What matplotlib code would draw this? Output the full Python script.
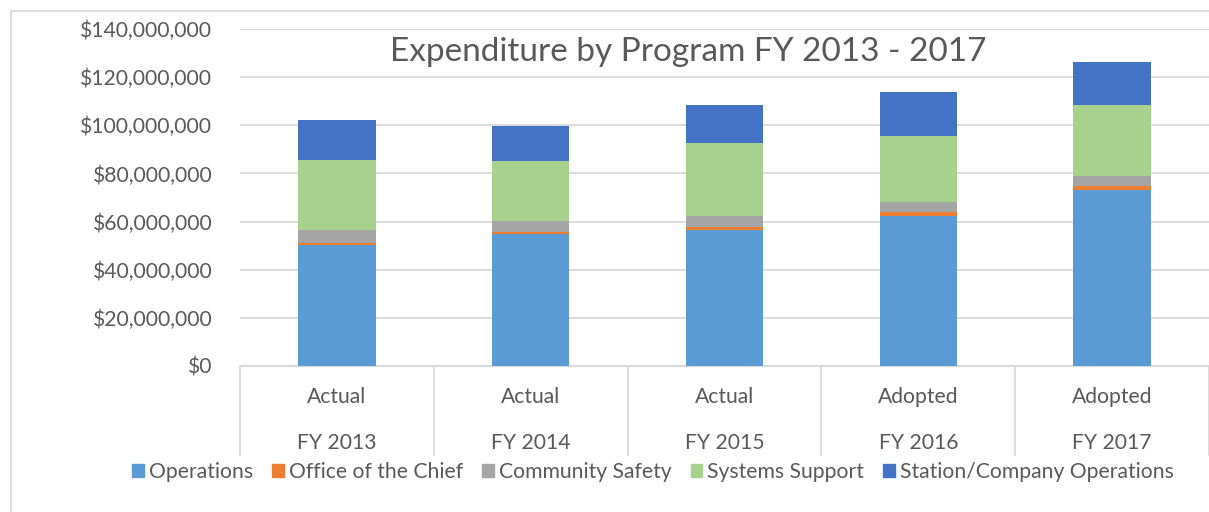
import matplotlib.pyplot as plt
import matplotlib.transforms as mtransforms
from matplotlib.patches import Patch
import numpy as np

# values in $ millions
years = ["FY 2013", "FY 2014", "FY 2015", "FY 2016", "FY 2017"]
status = ["Actual", "Actual", "Actual", "Adopted", "Adopted"]
operations = [50.1, 54.8, 56.5, 62.4, 73.1]
office_chief = [1.1, 0.9, 1.2, 1.4, 1.5]
community_safety = [5.3, 4.7, 4.7, 4.5, 4.4]
systems_support = [29.1, 24.9, 30.4, 27.3, 29.3]
station_ops = [16.6, 14.4, 15.5, 18.2, 18.1]

series = [
    ("Operations", operations, "#5b9bd5"),
    ("Office of the Chief", office_chief, "#ed7d31"),
    ("Community Safety", community_safety, "#a5a5a5"),
    ("Systems Support", systems_support, "#a9d18e"),
    ("Station/Company Operations", station_ops, "#4472c4"),
]

plt.rcParams['font.family'] = ['Lato', 'DejaVu Sans']
txt = "#595959"
grid = "#d9d9d9"
fs = 15.2

fig = plt.figure(figsize=(12.09, 5.12), dpi=100)
ax = fig.add_axes([240 / 1209, 1 - 366 / 512, 1 - 240 / 1209, (366 - 29) / 512])

x = np.arange(len(years))
bottom = np.zeros(len(years))
for name, vals, col in series:
    v = np.array(vals) * 1e6
    ax.bar(x, v, 0.4, bottom=bottom, color=col, label=name, zorder=3)
    bottom += v

ax.set_xlim(-0.5, 4.5)
ax.set_ylim(0, 140e6)
ax.set_yticks(np.arange(0, 140e6 + 1, 20e6))
ax.set_yticklabels(["${:,.0f}".format(t) for t in np.arange(0, 140e6 + 1, 20e6)])
ax.tick_params(axis='y', length=0, pad=20, labelsize=fs, labelcolor=txt)
ax.set_xticks([])
ax.grid(axis='y', color=grid, linewidth=1.3, zorder=0)
for s in ax.spines.values():
    s.set_visible(False)

# two-level category axis
trans = mtransforms.blended_transform_factory(ax.transData, ax.transAxes)
ax.plot([-0.5, 4.5], [0, 0], color=grid, lw=1.5, transform=trans, clip_on=False)
for b in np.arange(-0.5, 4.6, 1.0):
    ax.plot([b, b], [0, -0.264], color=grid, lw=1.3, transform=trans, clip_on=False)
for i in range(len(years)):
    ax.text(i, -0.092, status[i], transform=trans, ha='center', va='center',
            fontsize=fs, color=txt)
    ax.text(i, -0.228, years[i], transform=trans, ha='center', va='center',
            fontsize=fs, color=txt)

fig.text(688 / 1209, 1 - 52 / 512, "Expenditure by Program FY 2013 - 2017",
         ha='center', va='center', fontsize=24, color=txt)

handles = [Patch(color=c, label=n) for n, _, c in series]
fig.legend(handles=handles, loc='center', bbox_to_anchor=(653 / 1209, 1 - 472 / 512),
           ncol=5, frameon=False, fontsize=fs, labelcolor=txt,
           handlelength=0.55, handleheight=0.55, handletextpad=0.25, columnspacing=0.9)

# chart area frame (left and top edges visible)
fig.add_artist(plt.Line2D([11 / 1209, 11 / 1209], [0, 1 - 11 / 512], color=grid, lw=1.3))
fig.add_artist(plt.Line2D([11 / 1209, 1], [1 - 11 / 512, 1 - 11 / 512], color=grid, lw=1.3))

fig.savefig("out.png", dpi=100)
